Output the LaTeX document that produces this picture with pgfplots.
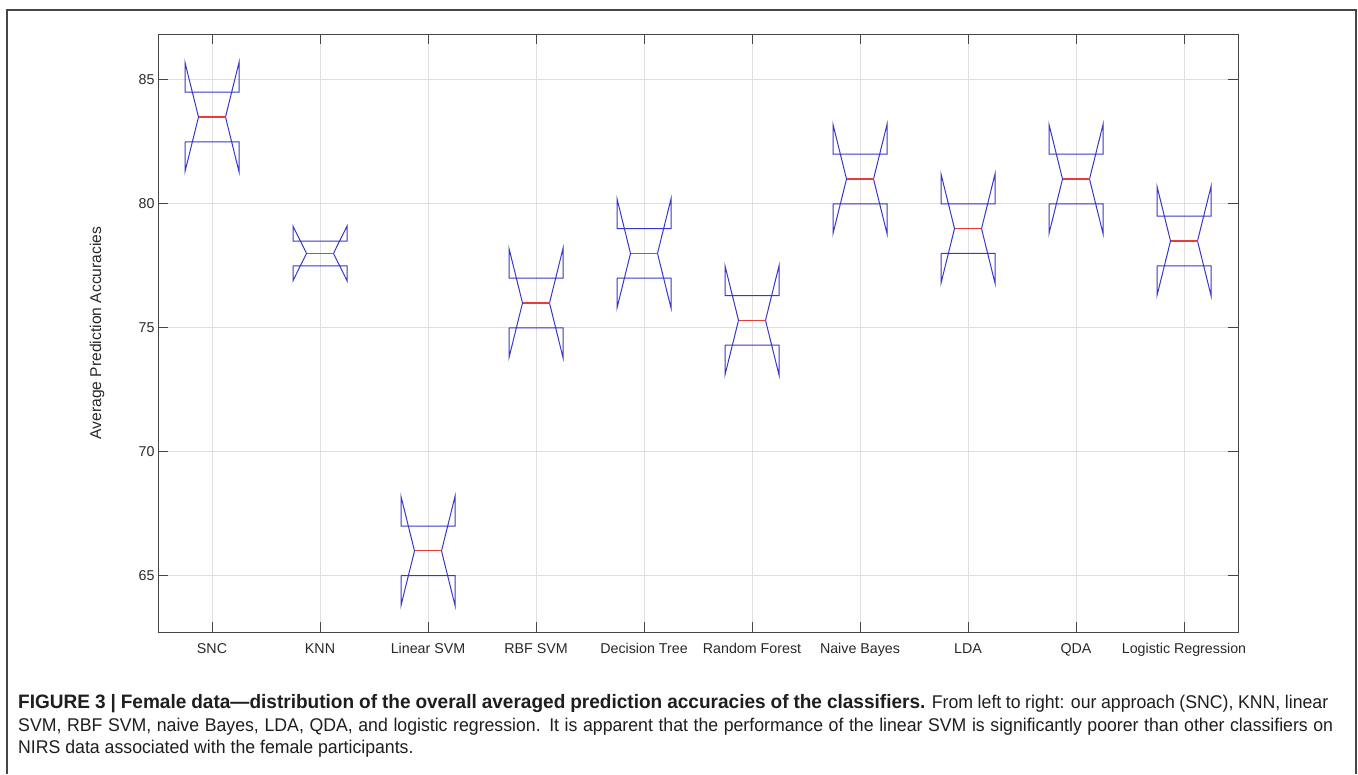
\documentclass[border=0pt]{standalone}
\usepackage{pgfplots}
\pgfplotsset{compat=1.18}
\usepackage{fontspec}
\setmainfont{Liberation Sans}
\newfontfamily\capfont[FakeStretch=0.96]{Liberation Sans}
\newfontfamily\capbf[FakeStretch=0.98]{Liberation Sans Bold}
\definecolor{boxblue}{RGB}{55,55,205}
\definecolor{medred}{RGB}{230,60,60}
\definecolor{axgray}{RGB}{70,70,70}
\definecolor{gridgray}{RGB}{223,223,223}
\definecolor{txtgray}{RGB}{40,40,40}
\definecolor{framegray}{RGB}{70,70,70}
\newcommand\notchbox[9]{%
  \addplot[boxblue] coordinates {(#1,#6) (#1,#5) (#2,#7) (#1,#9) (#1,#8) (#4,#8) (#4,#9) (#3,#7) (#4,#5) (#4,#6) (#1,#6)};
  \addplot[medred, line width=1.1bp] coordinates {(#2,#7) (#3,#7)};
}
\begin{document}
\begin{tikzpicture}[x=1bp,y=1bp]
\path[use as bounding box] (0,0) rectangle (1358,774);
\draw[line width=2bp, framegray] (7,0) -- (7,764) -- (1356,764) -- (1356,0);
\begin{axis}[at={(158bp,142bp)}, anchor=south west, scale only axis,
 width=1080bp, height=598bp,
 xmin=0.5, xmax=10.5, ymin=62.73, ymax=86.85,
 xtick={1,2,3,4,5,6,7,8,9,10},
 xticklabels={SNC,KNN,Linear SVM,RBF SVM,Decision Tree,Random Forest,Naive Bayes,LDA,QDA,Logistic Regression},
 ytick={65,70,75,80,85},
 grid=major, major grid style={gridgray, line width=0.8bp},
 tick align=inside, major tick length=10bp, tick style={axgray, line width=0.8bp},
 axis line style={axgray, line width=0.9bp},
 ticklabel style={font=\fontsize{14.3}{16}\selectfont, text=txtgray},
 /pgf/number format/assume math mode=true,
 xticklabel style={anchor=base, yshift=-22bp},
 ylabel={Average Prediction Accuracies},
 ylabel style={at={(axis description cs:-0.0565,0.5)}, anchor=center, font=\fontsize{15.7}{17}\selectfont, text=txtgray},
 every axis plot/.append style={line width=1bp},
]
% L nl nr R lo q1 med q3 hi
\notchbox{0.75}{0.875}{1.125}{1.25}{81.3}{82.5}{83.5}{84.5}{85.7}
\notchbox{1.75}{1.875}{2.125}{2.25}{76.9}{77.5}{78.0}{78.5}{79.1}
\notchbox{2.75}{2.875}{3.125}{3.25}{63.8}{65.0}{66.0}{67.0}{68.2}
\notchbox{3.75}{3.875}{4.125}{4.25}{73.8}{75.0}{76.0}{77.0}{78.2}
\notchbox{4.75}{4.875}{5.125}{5.25}{75.8}{77.0}{78.0}{79.0}{80.2}
\notchbox{5.75}{5.875}{6.125}{6.25}{73.1}{74.3}{75.3}{76.3}{77.5}
\notchbox{6.75}{6.875}{7.125}{7.25}{78.8}{80.0}{81.0}{82.0}{83.2}
\notchbox{7.75}{7.875}{8.125}{8.25}{76.8}{78.0}{79.0}{80.0}{81.2}
\notchbox{8.75}{8.875}{9.125}{9.25}{78.8}{80.0}{81.0}{82.0}{83.2}
\notchbox{9.75}{9.875}{10.125}{10.25}{76.3}{77.5}{78.5}{79.5}{80.7}
\end{axis}
\node[anchor=base west, inner sep=0, text={rgb,255:red,30;green,30;blue,30}] at (18,66) {\capfont\fontsize{18.5}{22}\selectfont\makebox[1310bp][s]{{\capbf\fontsize{19.5}{22}\selectfont FIGURE 3 | Female data—distribution of the overall averaged prediction accuracies of the classifiers.} From left to right: our approach (SNC), KNN, linear}};
\node[anchor=base west, inner sep=0, text={rgb,255:red,30;green,30;blue,30}] at (18,43) {\capfont\fontsize{18.5}{22}\selectfont\makebox[1315bp][s]{SVM, RBF SVM, naive Bayes, LDA, QDA, and logistic regression. It is apparent that the performance of the linear SVM is significantly poorer than other classifiers on}};
\node[anchor=base west, inner sep=0, text={rgb,255:red,30;green,30;blue,30}] at (18,21) {\capfont\fontsize{18.5}{22}\selectfont NIRS data associated with the female participants.};
\end{tikzpicture}
\end{document}
